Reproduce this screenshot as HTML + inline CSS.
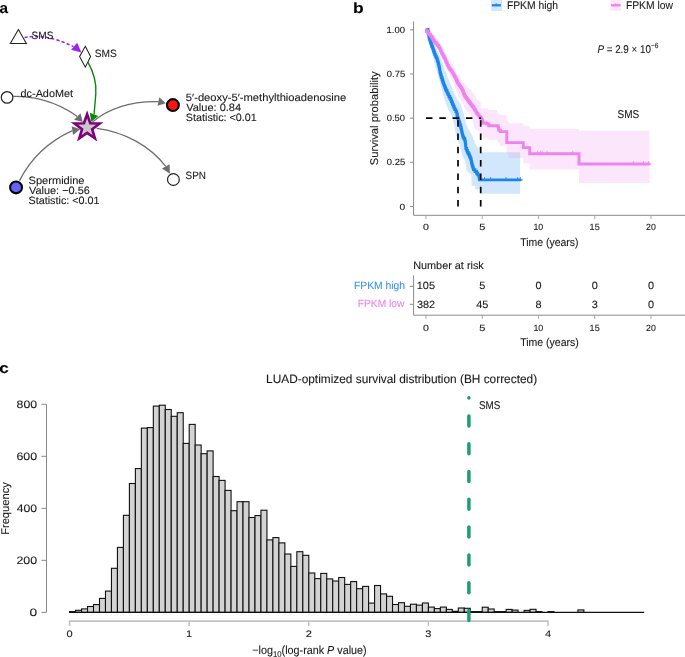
<!DOCTYPE html>
<html><head><meta charset="utf-8"><style>
html,body{margin:0;padding:0;background:#fff;width:685px;height:657px;overflow:hidden}
svg{display:block;will-change:transform;text-rendering:geometricPrecision;}
svg{font-family:"Liberation Sans", sans-serif}
</style></head><body>
<svg width="685" height="657" viewBox="0 0 685 657">
<path d="M24.5,37.4 C36,35.2 52,36 73.5,46.6" fill="none" stroke="#a020f0" stroke-width="1.5" stroke-dasharray="3.3,2.1"/>
<polygon points="81.40,52.60 71.09,49.75 77.21,42.75" fill="#a020f0"/>
<polygon points="18.4,29.5 10.3,43.5 26.4,43.5" fill="#fff" stroke="#222" stroke-width="1.05"/>
<polygon points="85.3,46.3 90.6,56.6 85.3,67.2 79.6,56.6" fill="#fff" stroke="#222" stroke-width="1.05"/>
<path d="M87.9,62.2 C94,73 96.5,85 95.8,94 C95.3,101 94.6,107 94.1,114.3" fill="none" stroke="#058805" stroke-width="1.35"/>
<polygon points="91.20,121.70 89.85,112.68 98.25,115.92" fill="#058805"/>
<path d="M13.3,96.4 C30,96 55,100 77.3,116.5" fill="none" stroke="#6e6e6e" stroke-width="1.3"/>
<polygon points="82.80,122.10 74.09,119.65 80.51,113.35" fill="#6e6e6e"/>
<path d="M19.5,180.6 C30,160 45,143 72.35,130.6" fill="none" stroke="#6e6e6e" stroke-width="1.3"/>
<polygon points="80.10,129.30 73.08,134.94 71.62,126.26" fill="#6e6e6e"/>
<path d="M91.6,122.7 C105,111 125,101 158.4,101.6" fill="none" stroke="#6e6e6e" stroke-width="1.3"/>
<polygon points="165.70,103.20 157.47,105.85 159.33,97.35" fill="#6e6e6e"/>
<path d="M96.7,128.3 C125,132 150,146 165.8,166.4" fill="none" stroke="#6e6e6e" stroke-width="1.3"/>
<polygon points="169.90,173.80 161.99,168.51 169.61,164.29" fill="#6e6e6e"/>
<circle cx="7.1" cy="97.4" r="5.8" fill="#fff" stroke="#222" stroke-width="1.2"/>
<circle cx="16.05" cy="187.4" r="5.95" fill="#6262ff" stroke="#000" stroke-width="2.1"/>
<circle cx="172.9" cy="105.1" r="5.95" fill="#ff1212" stroke="#000" stroke-width="2.1"/>
<circle cx="173.4" cy="179.5" r="5.9" fill="#fff" stroke="#222" stroke-width="1.2"/>
<polygon points="87.10,114.30 90.23,123.30 99.75,123.49 92.16,129.24 94.92,138.36 87.10,132.92 79.28,138.36 82.04,129.24 74.45,123.49 83.97,123.30" fill="#c8c8c8" stroke="#800080" stroke-width="2.6" stroke-linejoin="miter"/>
<polygon points="426.20,29.20 430.00,33.00 434.00,42.00 438.00,52.00 441.50,60.00 444.50,68.00 447.50,77.00 451.00,85.00 454.00,92.80 457.50,100.00 460.70,104.60 462.30,109.10 463.70,113.70 464.80,118.30 465.70,122.80 467.50,127.40 469.20,130.00 471.90,134.80 474.90,143.00 477.40,147.20 480.60,147.20 480.60,152.20 520.10,152.20 520.10,193.80 480.00,193.80 479.90,189.60 475.30,189.60 475.30,185.90 471.60,185.90 471.60,178.00 471.10,174.60 468.00,172.30 466.60,170.00 464.70,159.60 463.00,157.70 462.20,155.00 460.00,146.30 458.20,141.70 455.50,132.60 454.80,128.00 453.00,120.00 451.50,115.00 447.60,108.00 444.90,100.40 442.60,92.80 440.70,85.20 438.50,77.40 436.50,70.00 435.50,68.30 433.50,59.10 431.20,50.00 428.50,40.00 426.50,32.00 425.80,29.50" fill="rgba(28,134,238,0.2)"/>
<polygon points="425.50,29.00 430.00,30.50 435.00,35.50 439.50,41.50 444.10,50.20 448.50,59.50 453.30,65.80 456.00,72.00 460.10,78.30 465.00,84.40 471.70,90.40 475.30,96.50 478.10,101.10 480.70,102.00 480.70,108.20 488.00,108.20 488.00,110.00 497.20,110.00 497.20,112.80 499.50,112.80 499.50,115.10 506.60,115.10 506.60,120.70 508.70,120.70 508.70,123.20 523.40,123.20 523.40,125.80 529.70,125.80 529.70,129.10 579.00,129.10 579.00,130.70 649.60,130.70 649.60,182.90 579.00,182.90 579.00,169.50 529.70,169.50 529.70,163.50 523.40,163.50 523.40,157.90 508.70,157.90 508.70,153.80 506.60,153.80 506.60,145.70 499.90,145.70 499.90,142.60 497.50,142.60 497.50,139.90 488.40,139.90 488.40,138.50 483.00,138.50 483.00,136.70 480.60,134.00 477.40,130.00 475.30,129.00 474.40,127.40 473.00,122.80 472.10,118.30 469.40,113.70 465.20,109.10 463.40,104.60 461.10,100.00 458.30,96.50 454.00,84.40 449.00,72.20 442.40,60.00 438.00,50.00 433.00,40.00 428.00,32.00" fill="rgba(238,130,238,0.2)"/>
<polyline points="426.20,29.40 428.00,29.40 428.00,31.50 428.27,31.50 428.27,33.05 428.55,33.05 428.55,34.60 428.83,34.60 428.83,36.15 429.10,36.15 429.10,37.70 429.57,37.70 429.57,39.23 430.03,39.23 430.03,40.77 430.50,40.77 430.50,42.30 430.97,42.30 430.97,43.80 431.43,43.80 431.43,45.30 431.90,45.30 431.90,46.80 432.70,46.80 432.70,48.90 433.50,48.90 433.50,51.00 434.15,51.00 434.15,52.80 434.80,52.80 434.80,54.60 435.50,54.60 435.50,56.10 436.20,56.10 436.20,57.60 436.90,57.60 436.90,59.10 437.37,59.10 437.37,60.63 437.83,60.63 437.83,62.17 438.30,62.17 438.30,63.70 438.67,63.70 438.67,65.23 439.03,65.23 439.03,66.77 439.40,66.77 439.40,68.30 439.63,68.30 439.63,69.80 439.87,69.80 439.87,71.30 440.10,71.30 440.10,72.80 440.53,72.80 440.53,74.37 440.97,74.37 440.97,75.93 441.40,75.93 441.40,77.50 441.97,77.50 441.97,79.28 442.55,79.28 442.55,81.05 443.12,81.05 443.12,82.82 443.70,82.82 443.70,84.60 444.32,84.60 444.32,86.15 444.95,86.15 444.95,87.70 445.57,87.70 445.57,89.25 446.20,89.25 446.20,90.80 447.10,90.80 447.10,92.70 448.00,92.70 448.00,94.60 448.90,94.60 448.90,96.50 449.85,96.50 449.85,98.25 450.80,98.25 450.80,100.00 451.40,100.00 451.40,101.53 452.00,101.53 452.00,103.07 452.60,103.07 452.60,104.60 453.33,104.60 453.33,106.27 454.07,106.27 454.07,107.93 454.80,107.93 454.80,109.60 455.80,109.60 455.80,111.65 456.80,111.65 456.80,113.70 457.13,113.70 457.13,115.20 457.47,115.20 457.47,116.70 457.80,116.70 457.80,118.20 458.30,118.20 458.30,119.73 458.80,119.73 458.80,121.27 459.30,121.27 459.30,122.80 459.80,122.80 459.80,124.37 460.30,124.37 460.30,125.93 460.80,125.93 460.80,127.50 461.17,127.50 461.17,129.20 461.53,129.20 461.53,130.90 461.90,130.90 461.90,132.60 462.27,132.60 462.27,134.10 462.63,134.10 462.63,135.60 463.00,135.60 463.00,137.10 463.80,137.10 463.80,138.50 464.60,138.50 464.60,139.90 465.05,139.90 465.05,141.95 465.50,141.95 465.50,144.00 465.63,144.00 465.63,145.50 465.77,145.50 465.77,147.00 465.90,147.00 465.90,148.50 466.65,148.50 466.65,150.35 467.40,150.35 467.40,152.20 468.25,152.20 468.25,153.75 469.10,153.75 469.10,155.30 469.70,155.30 469.70,156.73 470.30,156.73 470.30,158.17 470.90,158.17 470.90,159.60 471.20,159.60 471.20,161.10 471.50,161.10 471.50,162.60 471.80,162.60 471.80,164.10 472.33,164.10 472.33,165.93 472.87,165.93 472.87,167.77 473.40,167.77 473.40,169.60 475.00,169.60 475.00,171.45 476.60,171.45 476.60,173.30 477.75,173.30 477.75,174.90 478.90,174.90 478.90,176.50 479.20,176.50 479.20,178.20 479.50,178.20 479.50,179.90 521.20,179.90" fill="none" stroke="#1b86ea" stroke-width="2.9" stroke-linejoin="miter"/>
<polyline points="425.00,29.90 426.37,29.90 426.37,31.43 427.73,31.43 427.73,32.97 429.10,32.97 429.10,34.50 430.50,34.50 430.50,36.10 431.90,36.10 431.90,37.70 432.80,37.70 432.80,39.23 433.70,39.23 433.70,40.77 434.60,40.77 434.60,42.30 436.00,42.30 436.00,43.90 437.40,43.90 437.40,45.50 438.50,45.50 438.50,47.05 439.60,47.05 439.60,48.60 440.33,48.60 440.33,50.23 441.07,50.23 441.07,51.87 441.80,51.87 441.80,53.50 442.57,53.50 442.57,54.90 443.35,54.90 443.35,56.30 444.12,56.30 444.12,57.70 444.90,57.70 444.90,59.10 445.57,59.10 445.57,60.73 446.23,60.73 446.23,62.37 446.90,62.37 446.90,64.00 447.60,64.00 447.60,65.43 448.30,65.43 448.30,66.87 449.00,66.87 449.00,68.30 450.10,68.30 450.10,69.73 451.20,69.73 451.20,71.17 452.30,71.17 452.30,72.60 453.05,72.60 453.05,73.90 453.80,73.90 453.80,75.20 454.55,75.20 454.55,76.50 455.30,76.50 455.30,77.80 455.90,77.80 455.90,79.12 456.50,79.12 456.50,80.44 457.10,80.44 457.10,81.76 457.70,81.76 457.70,83.08 458.30,83.08 458.30,84.40 459.35,84.40 459.35,85.90 460.40,85.90 460.40,87.40 461.45,87.40 461.45,88.90 462.50,88.90 462.50,90.40 463.02,90.40 463.02,91.80 463.55,91.80 463.55,93.20 464.08,93.20 464.08,94.60 464.60,94.60 464.60,96.00 465.55,96.00 465.55,97.35 466.50,97.35 466.50,98.70 467.45,98.70 467.45,100.05 468.40,100.05 468.40,101.40 469.40,101.40 469.40,102.68 470.40,102.68 470.40,103.96 471.40,103.96 471.40,105.24 472.40,105.24 472.40,106.52 473.40,106.52 473.40,107.80 474.25,107.80 474.25,109.22 475.10,109.22 475.10,110.65 475.95,110.65 475.95,112.08 476.80,112.08 476.80,113.50 477.87,113.50 477.87,114.83 478.93,114.83 478.93,116.17 480.00,116.17 480.00,117.50 481.00,117.50 481.00,118.85 482.00,118.85 482.00,120.20 482.45,120.20 482.45,121.60 482.90,121.60 482.90,123.00 486.60,123.00 486.60,123.90 488.80,123.90 488.80,125.70 495.70,125.70 498.00,125.70 498.00,127.10 498.45,127.10 498.45,128.70 498.90,128.70 498.90,130.30 500.30,130.30 500.30,131.60 506.80,131.60 506.80,142.60 523.30,142.60 523.30,147.60 529.70,147.60 529.70,153.70 579.00,153.70 579.00,164.00 649.60,164.00" fill="none" stroke="#ee82ee" stroke-width="2.9" stroke-linejoin="miter"/>
<path d="M426,118.2 H481.2" stroke="#000" stroke-width="1.7" stroke-dasharray="6.5,6.8" fill="none"/>
<path d="M458.0,206.5 V118.2 M480.7,206.5 V118.2" stroke="#000" stroke-width="1.7" stroke-dasharray="6.5,6.8" fill="none"/>
<line x1="521" y1="179.9" x2="522.6" y2="179.9" stroke="#1b86ea" stroke-width="1.2"/>
<line x1="649" y1="164" x2="651.3" y2="164" stroke="#ee82ee" stroke-width="1.2"/>
<line x1="484.5" y1="179.9" x2="484.5" y2="177.0" stroke="#1b86ea" stroke-width="0.8"/>
<line x1="490.7" y1="179.9" x2="490.7" y2="177.0" stroke="#1b86ea" stroke-width="0.8"/>
<line x1="506" y1="179.9" x2="506" y2="177.0" stroke="#1b86ea" stroke-width="0.8"/>
<line x1="517.7" y1="179.9" x2="517.7" y2="177.0" stroke="#1b86ea" stroke-width="0.8"/>
<line x1="520.3" y1="179.9" x2="520.3" y2="177.0" stroke="#1b86ea" stroke-width="0.8"/>
<line x1="537.6" y1="153.7" x2="537.6" y2="150.8" stroke="#ee82ee" stroke-width="0.8"/>
<line x1="540.4" y1="153.7" x2="540.4" y2="150.8" stroke="#ee82ee" stroke-width="0.8"/>
<line x1="542.3" y1="153.7" x2="542.3" y2="150.8" stroke="#ee82ee" stroke-width="0.8"/>
<line x1="547.1" y1="153.7" x2="547.1" y2="150.8" stroke="#ee82ee" stroke-width="0.8"/>
<line x1="572.7" y1="153.7" x2="572.7" y2="150.8" stroke="#ee82ee" stroke-width="0.8"/>
<line x1="633.4" y1="164" x2="633.4" y2="161.1" stroke="#ee82ee" stroke-width="0.8"/>
<line x1="643.5" y1="164" x2="643.5" y2="161.1" stroke="#ee82ee" stroke-width="0.8"/>
<line x1="648.6" y1="164" x2="648.6" y2="161.1" stroke="#ee82ee" stroke-width="0.8"/>
<path d="M413.6,21.5 V215.3 H685" fill="none" stroke="#8a8a8a" stroke-width="1"/>
<line x1="410" y1="29.85" x2="413.6" y2="29.85" stroke="#8a8a8a" stroke-width="1"/>
<line x1="410" y1="74.00" x2="413.6" y2="74.00" stroke="#8a8a8a" stroke-width="1"/>
<line x1="410" y1="118.15" x2="413.6" y2="118.15" stroke="#8a8a8a" stroke-width="1"/>
<line x1="410" y1="162.30" x2="413.6" y2="162.30" stroke="#8a8a8a" stroke-width="1"/>
<line x1="410" y1="206.45" x2="413.6" y2="206.45" stroke="#8a8a8a" stroke-width="1"/>
<line x1="426.00" y1="215.3" x2="426.00" y2="219" stroke="#b0b0b0" stroke-width="1.1"/>
<line x1="426.00" y1="315.2" x2="426.00" y2="319" stroke="#b0b0b0" stroke-width="1.1"/>
<line x1="482.25" y1="215.3" x2="482.25" y2="219" stroke="#b0b0b0" stroke-width="1.1"/>
<line x1="482.25" y1="315.2" x2="482.25" y2="319" stroke="#b0b0b0" stroke-width="1.1"/>
<line x1="538.50" y1="215.3" x2="538.50" y2="219" stroke="#b0b0b0" stroke-width="1.1"/>
<line x1="538.50" y1="315.2" x2="538.50" y2="319" stroke="#b0b0b0" stroke-width="1.1"/>
<line x1="594.75" y1="215.3" x2="594.75" y2="219" stroke="#b0b0b0" stroke-width="1.1"/>
<line x1="594.75" y1="315.2" x2="594.75" y2="319" stroke="#b0b0b0" stroke-width="1.1"/>
<line x1="651.00" y1="215.3" x2="651.00" y2="219" stroke="#b0b0b0" stroke-width="1.1"/>
<line x1="651.00" y1="315.2" x2="651.00" y2="319" stroke="#b0b0b0" stroke-width="1.1"/>
<rect x="491.1" y="0" width="10.9" height="10.9" fill="rgba(28,134,238,0.2)"/>
<line x1="491.8" y1="5.3" x2="500.9" y2="5.3" stroke="#1b86ea" stroke-width="2.3"/>
<line x1="496.2" y1="5.3" x2="496.2" y2="3.0" stroke="#1b86ea" stroke-width="0.8"/>
<rect x="610.3" y="0" width="10.9" height="10.9" fill="rgba(238,130,238,0.2)"/>
<line x1="611" y1="5.3" x2="620.5" y2="5.3" stroke="#ee82ee" stroke-width="2.3"/>
<line x1="615.6" y1="5.3" x2="615.6" y2="3.0" stroke="#ee82ee" stroke-width="0.8"/>
<path d="M413.6,275.4 V315.2 H685" fill="none" stroke="#8a8a8a" stroke-width="1"/>
<line x1="409.8" y1="286.3" x2="413.6" y2="286.3" stroke="#8a8a8a" stroke-width="1"/>
<line x1="409.8" y1="304.3" x2="413.6" y2="304.3" stroke="#8a8a8a" stroke-width="1"/>
<g fill="#d3d3d3" stroke="#111" stroke-width="1.1"><rect x="69.60" y="611.60" width="5.98" height="0.75"/><rect x="75.58" y="610.30" width="5.98" height="2.05"/><rect x="81.56" y="608.90" width="5.98" height="3.45"/><rect x="87.54" y="606.50" width="5.98" height="5.85"/><rect x="93.52" y="604.60" width="5.98" height="7.75"/><rect x="99.50" y="598.40" width="5.98" height="13.95"/><rect x="105.48" y="591.10" width="5.98" height="21.25"/><rect x="111.46" y="568.30" width="5.98" height="44.05"/><rect x="117.44" y="547.40" width="5.98" height="64.95"/><rect x="123.42" y="515.30" width="5.98" height="97.05"/><rect x="129.40" y="483.50" width="5.98" height="128.85"/><rect x="135.38" y="468.60" width="5.98" height="143.75"/><rect x="141.36" y="428.10" width="5.98" height="184.25"/><rect x="147.34" y="427.60" width="5.98" height="184.75"/><rect x="153.32" y="406.10" width="5.98" height="206.25"/><rect x="159.30" y="405.20" width="5.98" height="207.15"/><rect x="165.28" y="409.50" width="5.98" height="202.85"/><rect x="171.26" y="416.30" width="5.98" height="196.05"/><rect x="177.24" y="412.70" width="5.98" height="199.65"/><rect x="183.22" y="443.40" width="5.98" height="168.95"/><rect x="189.20" y="424.40" width="5.98" height="187.95"/><rect x="195.18" y="445.00" width="5.98" height="167.35"/><rect x="201.16" y="453.70" width="5.98" height="158.65"/><rect x="207.14" y="450.90" width="5.98" height="161.45"/><rect x="213.12" y="476.50" width="5.98" height="135.85"/><rect x="219.10" y="480.40" width="5.98" height="131.95"/><rect x="225.08" y="490.40" width="5.98" height="121.95"/><rect x="231.06" y="510.70" width="5.98" height="101.65"/><rect x="237.04" y="501.70" width="5.98" height="110.65"/><rect x="243.02" y="501.70" width="5.98" height="110.65"/><rect x="249.00" y="517.50" width="5.98" height="94.85"/><rect x="254.98" y="515.60" width="5.98" height="96.75"/><rect x="260.96" y="510.20" width="5.98" height="102.15"/><rect x="266.94" y="539.90" width="5.98" height="72.45"/><rect x="272.92" y="537.60" width="5.98" height="74.75"/><rect x="278.90" y="542.90" width="5.98" height="69.45"/><rect x="284.88" y="554.00" width="5.98" height="58.35"/><rect x="290.86" y="566.40" width="5.98" height="45.95"/><rect x="296.84" y="551.70" width="5.98" height="60.65"/><rect x="302.82" y="555.30" width="5.98" height="57.05"/><rect x="308.80" y="573.00" width="5.98" height="39.35"/><rect x="314.78" y="578.60" width="5.98" height="33.75"/><rect x="320.76" y="573.40" width="5.98" height="38.95"/><rect x="326.74" y="578.90" width="5.98" height="33.45"/><rect x="332.72" y="581.00" width="5.98" height="31.35"/><rect x="338.70" y="577.50" width="5.98" height="34.85"/><rect x="344.68" y="584.40" width="5.98" height="27.95"/><rect x="350.66" y="581.60" width="5.98" height="30.75"/><rect x="356.64" y="588.70" width="5.98" height="23.65"/><rect x="362.62" y="586.40" width="5.98" height="25.95"/><rect x="368.60" y="603.10" width="5.98" height="9.25"/><rect x="374.58" y="585.50" width="5.98" height="26.85"/><rect x="380.56" y="593.90" width="5.98" height="18.45"/><rect x="386.54" y="596.30" width="5.98" height="16.05"/><rect x="392.52" y="604.50" width="5.98" height="7.85"/><rect x="398.50" y="602.70" width="5.98" height="9.65"/><rect x="404.48" y="606.30" width="5.98" height="6.05"/><rect x="410.46" y="604.20" width="5.98" height="8.15"/><rect x="416.44" y="605.10" width="5.98" height="7.25"/><rect x="422.42" y="603.00" width="5.98" height="9.35"/><rect x="428.40" y="607.10" width="5.98" height="5.25"/><rect x="434.38" y="608.60" width="5.98" height="3.75"/><rect x="440.36" y="607.10" width="5.98" height="5.25"/><rect x="446.34" y="609.40" width="5.98" height="2.95"/><rect x="452.32" y="611.30" width="5.98" height="1.05"/><rect x="458.30" y="608.00" width="5.98" height="4.35"/><rect x="464.28" y="608.30" width="5.98" height="4.05"/><rect x="470.26" y="611.60" width="5.98" height="0.75"/><rect x="476.24" y="611.60" width="5.98" height="0.75"/><rect x="482.22" y="607.20" width="5.98" height="5.15"/><rect x="488.20" y="609.00" width="5.98" height="3.35"/><rect x="494.18" y="611.60" width="5.98" height="0.75"/><rect x="500.16" y="611.60" width="5.98" height="0.75"/><rect x="506.14" y="609.40" width="5.98" height="2.95"/><rect x="512.12" y="610.10" width="5.98" height="2.25"/><rect x="524.08" y="610.40" width="5.98" height="1.95"/><rect x="530.06" y="609.30" width="5.98" height="3.05"/><rect x="536.04" y="611.60" width="5.98" height="0.75"/><rect x="548.00" y="611.60" width="5.98" height="0.75"/><rect x="577.90" y="609.90" width="5.98" height="2.45"/></g>
<line x1="69.1" y1="612.35" x2="644.18" y2="612.35" stroke="#111" stroke-width="1.3"/>
<path d="M41.4,404.3 H46.5 V612.35 H41.4" fill="none" stroke="#8a8a8a" stroke-width="1"/>
<line x1="41.4" y1="456.31" x2="46.5" y2="456.31" stroke="#8a8a8a" stroke-width="1"/>
<line x1="41.4" y1="508.33" x2="46.5" y2="508.33" stroke="#8a8a8a" stroke-width="1"/>
<line x1="41.4" y1="560.34" x2="46.5" y2="560.34" stroke="#8a8a8a" stroke-width="1"/>
<path d="M69.6,626 V621.1 H548.0 V626" fill="none" stroke="#c4c4c4" stroke-width="1.6"/>
<line x1="189.20" y1="621.1" x2="189.20" y2="626" stroke="#c4c4c4" stroke-width="1.6"/>
<line x1="308.80" y1="621.1" x2="308.80" y2="626" stroke="#c4c4c4" stroke-width="1.6"/>
<line x1="428.40" y1="621.1" x2="428.40" y2="626" stroke="#c4c4c4" stroke-width="1.6"/>
<text x="-0.54" y="12.9" font-size="14.9" fill="#000" stroke="#000" stroke-width="0.1" font-weight="bold" textLength="8.54" lengthAdjust="spacingAndGlyphs">a</text>
<text x="352.91" y="12.9" font-size="14.9" fill="#000" stroke="#000" stroke-width="0.1" font-weight="bold" textLength="10.66" lengthAdjust="spacingAndGlyphs">b</text>
<text x="-0.83" y="373.4" font-size="14.9" fill="#000" stroke="#000" stroke-width="0.1" font-weight="bold" textLength="9.45" lengthAdjust="spacingAndGlyphs">c</text>
<text x="31.59" y="38.8" font-size="10.6" fill="#1a1a1a" stroke="#1a1a1a" stroke-width="0.1" textLength="21.84" lengthAdjust="spacingAndGlyphs">SMS</text>
<text x="94.78" y="57.2" font-size="10.6" fill="#1a1a1a" stroke="#1a1a1a" stroke-width="0.1" textLength="22.05" lengthAdjust="spacingAndGlyphs">SMS</text>
<text x="20.56" y="96.9" font-size="10.6" fill="#1a1a1a" stroke="#1a1a1a" stroke-width="0.1" textLength="52.50" lengthAdjust="spacingAndGlyphs">dc-AdoMet</text>
<text x="185.85" y="100.7" font-size="10.6" fill="#1a1a1a" stroke="#1a1a1a" stroke-width="0.1" textLength="160.40" lengthAdjust="spacingAndGlyphs">5′-deoxy-5′-methylthioadenosine</text>
<text x="186.20" y="111.3" font-size="10.6" fill="#1a1a1a" stroke="#1a1a1a" stroke-width="0.1" textLength="54.87" lengthAdjust="spacingAndGlyphs">Value: 0.84</text>
<text x="185.86" y="121.4" font-size="10.6" fill="#1a1a1a" stroke="#1a1a1a" stroke-width="0.1" textLength="70.97" lengthAdjust="spacingAndGlyphs">Statistic: &lt;0.01</text>
<text x="185.59" y="178.8" font-size="10.6" fill="#1a1a1a" stroke="#1a1a1a" stroke-width="0.1" textLength="20.31" lengthAdjust="spacingAndGlyphs">SPN</text>
<text x="28.55" y="183.7" font-size="10.6" fill="#1a1a1a" stroke="#1a1a1a" stroke-width="0.1" textLength="55.99" lengthAdjust="spacingAndGlyphs">Spermidine</text>
<text x="28.90" y="194.1" font-size="10.6" fill="#1a1a1a" stroke="#1a1a1a" stroke-width="0.1" textLength="60.94" lengthAdjust="spacingAndGlyphs">Value: −0.56</text>
<text x="28.56" y="204.2" font-size="10.6" fill="#1a1a1a" stroke="#1a1a1a" stroke-width="0.1" textLength="70.97" lengthAdjust="spacingAndGlyphs">Statistic: &lt;0.01</text>
<text x="506.89" y="8.8" font-size="11.2" fill="#1a1a1a" stroke="#1a1a1a" stroke-width="0.1" textLength="51.19" lengthAdjust="spacingAndGlyphs">FPKM high</text>
<text x="625.89" y="8.8" font-size="11.2" fill="#1a1a1a" stroke="#1a1a1a" stroke-width="0.1" textLength="47.08" lengthAdjust="spacingAndGlyphs">FPKM low</text>
<text x="617.49" y="117.8" font-size="11.4" fill="#1a1a1a" stroke="#1a1a1a" stroke-width="0.1" textLength="21.73" lengthAdjust="spacingAndGlyphs">SMS</text>
<text x="386.50" y="32.95" font-size="9" fill="#1a1a1a" stroke="#1a1a1a" stroke-width="0.1" textLength="18.53" lengthAdjust="spacingAndGlyphs">1.00</text>
<text x="386.80" y="77.1" font-size="9" fill="#1a1a1a" stroke="#1a1a1a" stroke-width="0.1" textLength="18.38" lengthAdjust="spacingAndGlyphs">0.75</text>
<text x="386.81" y="121.25" font-size="9" fill="#1a1a1a" stroke="#1a1a1a" stroke-width="0.1" textLength="18.23" lengthAdjust="spacingAndGlyphs">0.50</text>
<text x="386.80" y="165.4" font-size="9" fill="#1a1a1a" stroke="#1a1a1a" stroke-width="0.1" textLength="18.38" lengthAdjust="spacingAndGlyphs">0.25</text>
<text x="399.48" y="209.54999999999998" font-size="9" fill="#1a1a1a" stroke="#1a1a1a" stroke-width="0.1" textLength="5.67" lengthAdjust="spacingAndGlyphs">0</text>
<text x="423.02" y="230.3" font-size="9" fill="#1a1a1a" stroke="#1a1a1a" stroke-width="0.1" textLength="5.90" lengthAdjust="spacingAndGlyphs">0</text>
<text x="423.02" y="331.0" font-size="9" fill="#1a1a1a" stroke="#1a1a1a" stroke-width="0.1" textLength="5.90" lengthAdjust="spacingAndGlyphs">0</text>
<text x="479.26" y="230.3" font-size="9" fill="#1a1a1a" stroke="#1a1a1a" stroke-width="0.1" textLength="6.09" lengthAdjust="spacingAndGlyphs">5</text>
<text x="479.26" y="331.0" font-size="9" fill="#1a1a1a" stroke="#1a1a1a" stroke-width="0.1" textLength="6.09" lengthAdjust="spacingAndGlyphs">5</text>
<text x="533.40" y="230.3" font-size="9" fill="#1a1a1a" stroke="#1a1a1a" stroke-width="0.1" textLength="9.88" lengthAdjust="spacingAndGlyphs">10</text>
<text x="533.40" y="331.0" font-size="9" fill="#1a1a1a" stroke="#1a1a1a" stroke-width="0.1" textLength="9.88" lengthAdjust="spacingAndGlyphs">10</text>
<text x="589.64" y="230.3" font-size="9" fill="#1a1a1a" stroke="#1a1a1a" stroke-width="0.1" textLength="10.03" lengthAdjust="spacingAndGlyphs">15</text>
<text x="589.64" y="331.0" font-size="9" fill="#1a1a1a" stroke="#1a1a1a" stroke-width="0.1" textLength="10.03" lengthAdjust="spacingAndGlyphs">15</text>
<text x="646.04" y="230.3" font-size="9" fill="#1a1a1a" stroke="#1a1a1a" stroke-width="0.1" textLength="9.73" lengthAdjust="spacingAndGlyphs">20</text>
<text x="646.04" y="331.0" font-size="9" fill="#1a1a1a" stroke="#1a1a1a" stroke-width="0.1" textLength="9.73" lengthAdjust="spacingAndGlyphs">20</text>
<text x="520.24" y="245.8" font-size="11.3" fill="#1a1a1a" stroke="#1a1a1a" stroke-width="0.1" textLength="58.30" lengthAdjust="spacingAndGlyphs">Time (years)</text>
<text x="520.14" y="346.2" font-size="11.3" fill="#1a1a1a" stroke="#1a1a1a" stroke-width="0.1" textLength="58.71" lengthAdjust="spacingAndGlyphs">Time (years)</text>
<text transform="translate(377.9,164.9) rotate(-90)" x="-0.35" y="0" font-size="11.1" fill="#1a1a1a" stroke="#1a1a1a" stroke-width="0.1" textLength="93.85" lengthAdjust="spacingAndGlyphs">Survival probability</text>
<text x="413.15" y="268.9" font-size="10.7" fill="#1a1a1a" stroke="#1a1a1a" stroke-width="0.1" textLength="70.68" lengthAdjust="spacingAndGlyphs">Number at risk</text>
<text x="353.99" y="289.0" font-size="10.5" fill="#3f92ea" stroke="#3f92ea" stroke-width="0.1" textLength="51.09" lengthAdjust="spacingAndGlyphs">FPKM high</text>
<text x="357.80" y="307.4" font-size="10.5" fill="#ee82ee" stroke="#ee82ee" stroke-width="0.1" textLength="46.57" lengthAdjust="spacingAndGlyphs">FPKM low</text>
<text x="416.77" y="289.4" font-size="10.5" fill="#1a1a1a" stroke="#1a1a1a" stroke-width="0.1" textLength="18.22" lengthAdjust="spacingAndGlyphs">105</text>
<text x="416.94" y="307.6" font-size="10.5" fill="#1a1a1a" stroke="#1a1a1a" stroke-width="0.1" textLength="18.22" lengthAdjust="spacingAndGlyphs">382</text>
<text x="479.26" y="289.4" font-size="10.5" fill="#1a1a1a" stroke="#1a1a1a" stroke-width="0.1" textLength="6.07" lengthAdjust="spacingAndGlyphs">5</text>
<text x="476.31" y="307.6" font-size="10.5" fill="#1a1a1a" stroke="#1a1a1a" stroke-width="0.1" textLength="12.15" lengthAdjust="spacingAndGlyphs">45</text>
<text x="535.43" y="289.4" font-size="10.5" fill="#1a1a1a" stroke="#1a1a1a" stroke-width="0.1" textLength="6.07" lengthAdjust="spacingAndGlyphs">0</text>
<text x="535.51" y="307.6" font-size="10.5" fill="#1a1a1a" stroke="#1a1a1a" stroke-width="0.1" textLength="6.07" lengthAdjust="spacingAndGlyphs">8</text>
<text x="591.68" y="289.4" font-size="10.5" fill="#1a1a1a" stroke="#1a1a1a" stroke-width="0.1" textLength="6.07" lengthAdjust="spacingAndGlyphs">0</text>
<text x="591.76" y="307.6" font-size="10.5" fill="#1a1a1a" stroke="#1a1a1a" stroke-width="0.1" textLength="6.07" lengthAdjust="spacingAndGlyphs">3</text>
<text x="647.93" y="289.4" font-size="10.5" fill="#1a1a1a" stroke="#1a1a1a" stroke-width="0.1" textLength="6.07" lengthAdjust="spacingAndGlyphs">0</text>
<text x="647.93" y="307.6" font-size="10.5" fill="#1a1a1a" stroke="#1a1a1a" stroke-width="0.1" textLength="6.07" lengthAdjust="spacingAndGlyphs">0</text>
<text x="16.62" y="408.05" font-size="10.8" fill="#1a1a1a" stroke="#1a1a1a" stroke-width="0.1" textLength="20.49" lengthAdjust="spacingAndGlyphs">800</text>
<text x="16.42" y="460.06" font-size="10.8" fill="#1a1a1a" stroke="#1a1a1a" stroke-width="0.1" textLength="20.69" lengthAdjust="spacingAndGlyphs">600</text>
<text x="16.81" y="512.08" font-size="10.8" fill="#1a1a1a" stroke="#1a1a1a" stroke-width="0.1" textLength="20.29" lengthAdjust="spacingAndGlyphs">400</text>
<text x="16.42" y="564.09" font-size="10.8" fill="#1a1a1a" stroke="#1a1a1a" stroke-width="0.1" textLength="20.69" lengthAdjust="spacingAndGlyphs">200</text>
<text x="29.57" y="615.95" font-size="10.8" fill="#1a1a1a" stroke="#1a1a1a" stroke-width="0.1" textLength="7.67" lengthAdjust="spacingAndGlyphs">0</text>
<text x="66.49" y="636.8" font-size="9.45" fill="#1a1a1a" stroke="#1a1a1a" stroke-width="0.1" textLength="6.15" lengthAdjust="spacingAndGlyphs">0</text>
<text x="186.00" y="636.8" font-size="9.45" fill="#1a1a1a" stroke="#1a1a1a" stroke-width="0.1" textLength="6.15" lengthAdjust="spacingAndGlyphs">1</text>
<text x="305.69" y="636.8" font-size="9.45" fill="#1a1a1a" stroke="#1a1a1a" stroke-width="0.1" textLength="6.15" lengthAdjust="spacingAndGlyphs">2</text>
<text x="425.38" y="636.8" font-size="9.45" fill="#1a1a1a" stroke="#1a1a1a" stroke-width="0.1" textLength="6.15" lengthAdjust="spacingAndGlyphs">3</text>
<text x="544.98" y="636.8" font-size="9.45" fill="#1a1a1a" stroke="#1a1a1a" stroke-width="0.1" textLength="6.15" lengthAdjust="spacingAndGlyphs">4</text>
<text transform="translate(8.6,534.0) rotate(-90)" x="-0.87" y="0" font-size="11.2" fill="#1a1a1a" stroke="#1a1a1a" stroke-width="0.1" textLength="52.67" lengthAdjust="spacingAndGlyphs">Frequency</text>
<text x="266.07" y="382.6" font-size="12.1" fill="#1a1a1a" stroke="#1a1a1a" stroke-width="0.1" textLength="271.04" lengthAdjust="spacingAndGlyphs">LUAD-optimized survival distribution (BH corrected)</text>
<text x="478.99" y="408.7" font-size="11.3" fill="#1a1a1a" stroke="#1a1a1a" stroke-width="0.1" textLength="21.42" lengthAdjust="spacingAndGlyphs">SMS</text>
<text x="597.4" y="52.8" font-size="11.3" fill="#1a1a1a" stroke="#1a1a1a" stroke-width="0.1" transform="translate(597.4,52.8) scale(0.87,1) translate(-597.4,-52.8)"><tspan font-style="italic">P</tspan> = 2.9 × 10<tspan font-size="7.6" dy="-4.4">−6</tspan></text>
<text x="252.2" y="653.8" font-size="11.6" fill="#1a1a1a" stroke="#1a1a1a" stroke-width="0.1" transform="translate(252.2,0) scale(0.93,1) translate(-252.2,0)">−log<tspan font-size="8.4" dy="2.8">10</tspan><tspan dy="-2.8">(log-rank </tspan><tspan font-style="italic">P</tspan> value)</text>
<path d="M468.9,620.5 V397.8" stroke="#1b9e77" stroke-width="3.5" stroke-linecap="round" stroke-dasharray="10,17.8" fill="none"/>
</svg></body></html>
